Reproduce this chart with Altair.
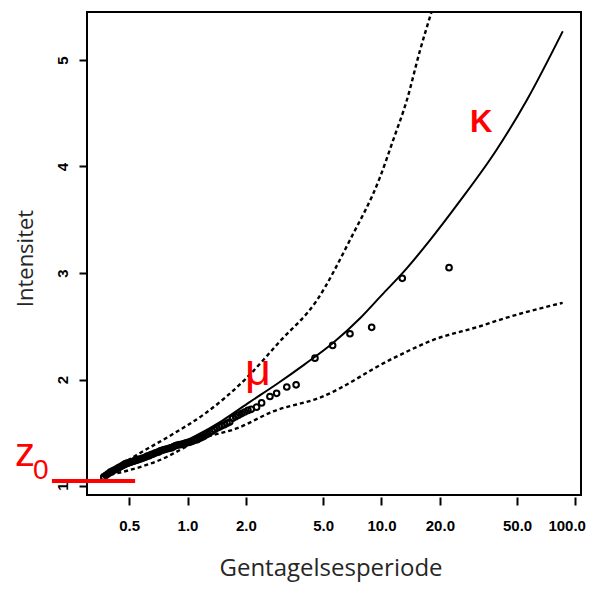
import altair as alt
import pandas as pd

# ---------------- data ----------------
# fitted return-level curve (solid)
rl_T = [0.36, 0.45, 0.6, 0.8, 1.1, 1.5, 2.1, 2.9, 4.0, 5.6, 7.8, 10, 13, 18, 25, 39, 56, 86]
rl_v = [1.09, 1.16, 1.25, 1.35, 1.47, 1.61, 1.79, 1.96, 2.14, 2.34, 2.58, 2.79, 3.01, 3.32, 3.66, 4.15, 4.62, 5.27]

# upper confidence bound (dashed)
up_T = [0.37, 0.57, 0.845, 1.23, 1.98, 3.0, 4.63, 6.88, 9.83, 11.5, 13.5, 15.8, 18.1]
up_v = [1.10, 1.31, 1.49, 1.68, 2.00, 2.36, 2.74, 3.31, 3.90, 4.25, 4.62, 5.09, 5.45]

# lower confidence bound (dashed)
lo_T = [0.37, 0.69, 1.26, 1.79, 2.76, 4.82, 11.5, 18.4, 32.2, 42.3, 85.9]
lo_v = [1.09, 1.23, 1.46, 1.54, 1.70, 1.83, 2.20, 2.37, 2.50, 2.57, 2.72]

# empirical points (circles)
pts_T = [22.3, 12.8, 8.9, 6.88, 5.6, 4.54, 3.63, 3.25, 2.88, 2.66, 2.41, 2.27,
         2.13, 2.05, 1.97, 1.90, 1.83, 1.77, 1.71, 1.65, 1.60, 1.55, 1.50, 1.46,
         1.42, 1.38, 1.34, 1.30, 1.27, 1.24, 1.21, 1.18, 1.15, 1.12, 1.09, 1.06,
         1.04, 1.01, 0.99, 0.97, 0.95, 0.93, 0.91, 0.89, 0.87, 0.85, 0.83, 0.81,
         0.79, 0.77, 0.755, 0.74, 0.725, 0.71, 0.695, 0.68, 0.665, 0.65, 0.635, 0.62,
         0.605, 0.59, 0.575, 0.56, 0.55, 0.54, 0.53, 0.52, 0.51, 0.50, 0.49, 0.48,
         0.47, 0.46, 0.45, 0.44, 0.43, 0.42, 0.41, 0.40, 0.39, 0.38, 0.37]
pts_v = [3.05, 2.95, 2.49, 2.43, 2.32, 2.20, 1.95, 1.93, 1.87, 1.84, 1.78, 1.74,
         1.72, 1.71, 1.695, 1.68, 1.665, 1.65, 1.635, 1.60, 1.59, 1.575, 1.565, 1.555,
         1.545, 1.53, 1.515, 1.50, 1.49, 1.48, 1.465, 1.455, 1.445, 1.435, 1.43, 1.42,
         1.415, 1.41, 1.405, 1.40, 1.395, 1.39, 1.388, 1.385, 1.38, 1.37, 1.36, 1.355,
         1.35, 1.345, 1.34, 1.335, 1.33, 1.32, 1.315, 1.31, 1.30, 1.295, 1.285, 1.28,
         1.27, 1.263, 1.255, 1.25, 1.245, 1.24, 1.235, 1.23, 1.225, 1.22, 1.215, 1.21,
         1.20, 1.19, 1.18, 1.17, 1.16, 1.15, 1.14, 1.13, 1.115, 1.10, 1.085]

x_ticks = [0.5, 1, 2, 5, 10, 20, 50, 100]
y_ticks = [1, 2, 3, 4, 5]

# red annotations
z0_T = [0.2]
z0_T2 = [0.537]
z0_v = [1.047]

ann_z = {"T": [0.129], "v": [1.19], "label": ["z"]}
ann_0 = {"T": [0.16], "v": [1.07], "label": ["0"]}
ann_mu = {"T": [1.98], "v": [1.95], "label": ["μ"]}
ann_K = {"T": [28.6], "v": [4.32], "label": ["K"]}

# ---------------- chart ----------------
X_DOMAIN = [0.3033, 106.8]
Y_DOMAIN = [0.9155, 5.4507]

xscale = alt.Scale(type="log", domain=X_DOMAIN, nice=False)
yscale = alt.Scale(domain=Y_DOMAIN, nice=False, zero=False)

xaxis = alt.Axis(
    values=x_ticks, format=".1f", domain=False, grid=False,
    tickSize=8, tickWidth=2, tickColor="black", offset=2,
    labelFont="Liberation Sans", labelFontWeight="bold", labelFontSize=15,
    labelColor="black", labelPadding=13, labelFlush=8, labelFlushOffset=10,
    labelOverlap=False,
    title="Gentagelsesperiode", titleFont="Open Sans", titleFontSize=24,
    titleFontWeight="normal", titleColor="#262626",
    titleX=243.5, titleY=78, titleAlign="center", titleBaseline="alphabetic",
)
yaxis = alt.Axis(
    values=y_ticks, format="d", domain=False, grid=False,
    tickSize=8, tickWidth=2, tickColor="black",
    labelFont="Liberation Sans", labelFontWeight="bold", labelFontSize=15,
    labelColor="black", labelAngle=270, labelAlign="center",
    labelBaseline="alphabetic", labelPadding=12, labelFlush=False,
    title="Intensitet", titleFont="Open Sans", titleFontSize=22,
    titleFontWeight="normal", titleColor="#262626", titleAngle=270,
    titleX=-55, titleY=246, titleAlign="center", titleBaseline="alphabetic",
)

X = alt.X("T:Q", scale=xscale, axis=xaxis)
Y = alt.Y("v:Q", scale=yscale, axis=yaxis)

rl_df = pd.DataFrame({"T": rl_T, "v": rl_v})
ci_df = pd.concat([
    pd.DataFrame({"T": up_T, "v": up_v, "s": "upper"}),
    pd.DataFrame({"T": lo_T, "v": lo_v, "s": "lower"}),
])
pts_df = pd.DataFrame({"T": pts_T, "v": pts_v})
z0_df = pd.DataFrame({"T": z0_T, "T2": z0_T2, "v": z0_v})

solid = alt.Chart(rl_df).mark_line(
    color="black", strokeWidth=2, interpolate="monotone", clip=True
).encode(x=X, y=Y)

dashed = alt.Chart(ci_df).mark_line(
    color="black", strokeWidth=2.4, strokeDash=[4, 3], interpolate="monotone", clip=True
).encode(x=X, y=Y, detail="s:N")

points = alt.Chart(pts_df).mark_point(
    shape="circle", filled=False, color="black", strokeWidth=2, size=32, opacity=1
).encode(x=X, y=Y)

z0_line = alt.Chart(z0_df).mark_rule(color="#ff0000", strokeWidth=4, clip=False).encode(
    x=X, x2="T2:Q", y=Y
)


def red_text(d, size, weight="normal"):
    return alt.Chart(pd.DataFrame(d)).mark_text(
        color="#ff0000", font="Liberation Sans", fontSize=size, fontWeight=weight,
        align="left", baseline="alphabetic", clip=False
    ).encode(x=X, y=Y, text="label:N")


chart = alt.layer(
    dashed, solid, points, z0_line,
    red_text(ann_z, 40), red_text(ann_0, 28), red_text(ann_mu, 45),
    red_text(ann_K, 31, "bold"),
).properties(
    width=494, height=483,
    autosize=alt.AutoSizeParams(type="none"),
    padding={"left": 79, "top": 4, "right": 7, "bottom": 87},
    background="white",
).configure_view(stroke="black", strokeWidth=2)

chart.save("out.html", embed_options={"renderer": "svg", "actions": False})
